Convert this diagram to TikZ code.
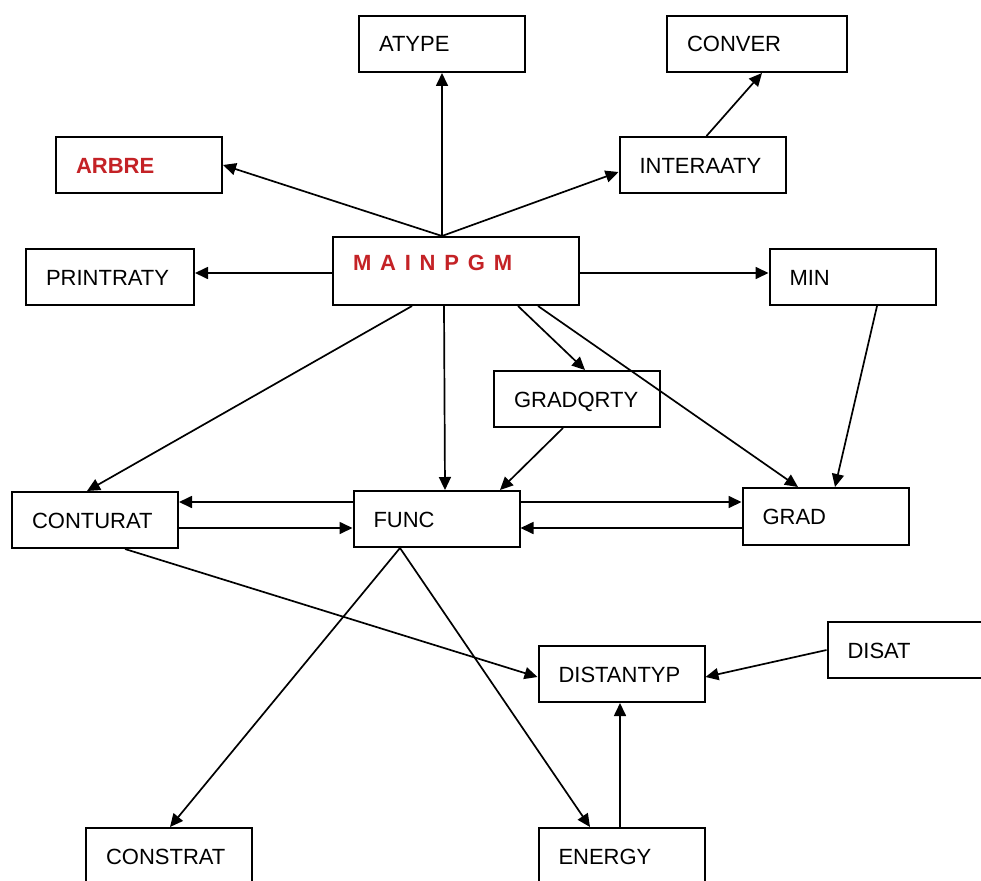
\documentclass[tikz,border=0pt]{standalone}
\usepackage{fontspec}
\setmainfont{Liberation Sans}
\newfontfamily\widefont[LetterSpace=40]{Liberation Sans}
\usepackage{tikz}
\usetikzlibrary{arrows.meta}
\usepackage{xcolor}
\definecolor{progred}{RGB}{196,34,38}
\newcommand{\boxfont}{\fontsize{22}{25}\selectfont}

\begin{document}
\begin{tikzpicture}[x=1pt,y=-1pt,
  box/.style={draw,line width=2pt,inner xsep=20pt,inner ysep=0pt,minimum height=56pt,
    text width=126pt,align=left,text height=16pt,text depth=0pt,font=\boxfont},
  redtext/.style={text=progred,font=\boxfont\bfseries},
  arr/.style={line width=1.7pt,-{Triangle[length=13pt,width=12pt]}}]
 \path[use as bounding box,fill=white] (0,0) rectangle (981,880);

 \node[box] (atype) at (442,44) {ATYPE};
 \node[box,text width=140pt] (conver) at (757,44) {CONVER};
 \node[box,redtext] (arbre) at (139,165) {ARBRE};
 \node[box] (interaaty) at (702.5,165) {INTERAATY};
 \node[box,text width=128pt] (printraty) at (110,277) {PRINTRATY};
 \node[box,text width=206pt,minimum height=68pt,text depth=17pt,text=progred,font=\boxfont\widefont\bfseries] (mainpgm) at (456,271) {MAINPGM};
 \node[box] (min) at (852.5,277) {MIN};
 \node[box] (gradqrty) at (577,399) {GRADQRTY};
 \node[box] (conturat) at (95,520) {CONTURAT};
 \node[box] (func) at (436.5,519) {FUNC};
 \node[box,minimum height=57pt] (grad) at (825.5,516.5) {GRAD};
 \node[box] (distantyp) at (621.5,674) {DISTANTYP};
 \node[box] (disat) at (910.5,650) {DISAT};
 \node[box] (constrat) at (169,856) {CONSTRAT};
 \node[box] (energy) at (621.5,856) {ENERGY};

 \coordinate (apex) at (atype.south |- mainpgm.north);
 \coordinate (foot) at ([xshift=-36.5pt]func.south);

 \draw[arr] (apex) -- (atype.south);
 \draw[arr] (apex) -- (arbre.east);
 \draw[arr] (apex) -- ([yshift=-7pt]interaaty.west);
 \draw[arr] ([xshift=4pt]interaaty.north) -- ([xshift=5pt]conver.south);
 \draw[arr] ([yshift=-2pt]mainpgm.west) -- ([yshift=-2pt]mainpgm.west -| printraty.east);
 \draw[arr] ([yshift=-2pt]mainpgm.east) -- ([yshift=-2pt]mainpgm.east -| min.west);
 %%%%%%%%%%%%%%%%%%%%%%%%%%%%%%%%%%%
 \draw[arr] ([xshift=-44pt]mainpgm.south) -- ([xshift=-8pt]conturat.north);
 \draw[arr] ([xshift=-12pt]mainpgm.south) -- ([xshift=8.5pt]func.north);
 \draw[arr] ([xshift=62pt]mainpgm.south) -- ([xshift=8pt]gradqrty.north);
 \draw[arr] ([xshift=82pt]mainpgm.south) -- ([xshift=-27.5pt]grad.north);
 \draw[arr] ([xshift=24.5pt]min.south) -- ([xshift=9.5pt]grad.north);
 \draw[arr] ([xshift=-14pt]gradqrty.south) -- ([xshift=63.5pt]func.north);

 \draw[arr] ([yshift=17pt]func.west) -- ([yshift=17pt]func.west -| conturat.east);
 \draw[arr] ([yshift=-9pt]func.west -| conturat.east) -- ([yshift=-9pt]func.west);
 \draw[arr] ([yshift=17pt]func.east) -- ([yshift=17pt]func.east -| grad.west);
 \draw[arr] ([yshift=-9pt]func.east -| grad.west) -- ([yshift=-9pt]func.east);
 %%%%%%%%%%%%%%%%%%%%%%%%%%%%%%%%%%%
 \draw[arr] (foot) -- ([xshift=1pt]constrat.north);
 \draw[arr] (foot) -- ([xshift=-31.5pt]energy.north);
 \draw[arr] ([xshift=30pt]conturat.south) -- ([yshift=-3pt]distantyp.west);
 \draw[arr] (disat.west) -- ([yshift=-3pt]distantyp.east);
 \draw[arr] ([xshift=-1.5pt]energy.north) -- ([xshift=-1.5pt]distantyp.south);
\end{tikzpicture}
\end{document}
